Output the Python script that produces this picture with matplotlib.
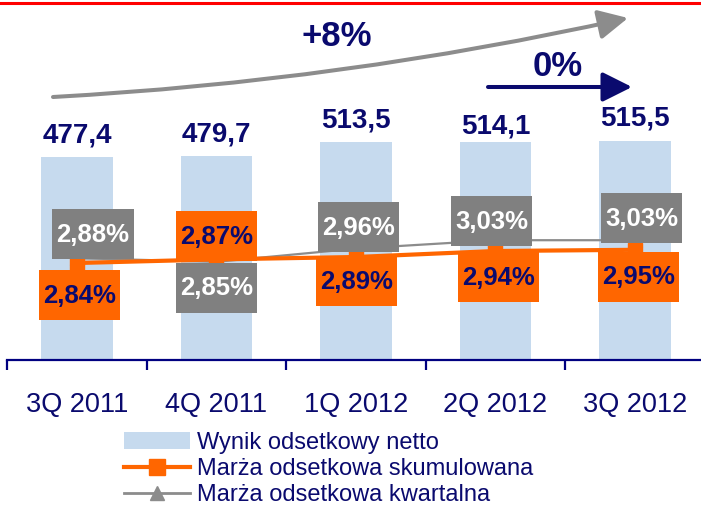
import matplotlib
matplotlib.use('Agg')
import matplotlib.pyplot as plt
from matplotlib.patches import Rectangle, Patch, FancyArrowPatch
from matplotlib.lines import Line2D
from matplotlib.transforms import IdentityTransform

plt.rcParams['font.family'] = ['Liberation Sans', 'DejaVu Sans']

quarters = ['3Q 2011', '4Q 2011', '1Q 2012', '2Q 2012', '3Q 2012']
net_interest = [477.4, 479.7, 513.5, 514.1, 515.5]
margin_cum = [2.84, 2.87, 2.89, 2.94, 2.95]
margin_qtr = [2.88, 2.85, 2.96, 3.03, 3.03]
legend_labels = ['Wynik odsetkowy netto', 'Marża odsetkowa skumulowana',
                 'Marża odsetkowa kwartalna']

# label placement (pixels): value label baseline above bar top, box offsets from point
bar_label_gap = [15, 15, 14.5, 8.5, 15.5]
cum_offsets = [(2.5, 32), (0, -23.4), (0.5, 24), (3, 26), (3.5, 27)]
qtr_offsets = [(16, -24), (0, 26), (2.5, -21.6), (-4, -19), (6.5, -22)]

NAVY = '#0a0a6e'
ORANGE = '#ff6600'
GRAY = '#808080'
LINE_GRAY = '#8c8c8c'
BLUE = '#c6daee'

W, H = 701, 509
fig = plt.figure(figsize=(W / 100, H / 100), dpi=100)


def px_rect(x0, y_top, x1, y_bot):
    return [x0 / W, 1 - y_bot / H, (x1 - x0) / W, (y_bot - y_top) / H]


ax = fig.add_axes(px_rect(7.25, 20, 704.75, 360))
ax2 = ax.twinx()
x = list(range(len(quarters)))

ax.bar(x, net_interest, width=0.516, color=BLUE, zorder=1)
ax.set_xlim(-0.5, 4.5)
ax.set_ylim(0, 801)
ax2.set_ylim(2.0317, 4.865)

for s in ['top', 'left', 'right']:
    ax.spines[s].set_visible(False)
ax.spines['bottom'].set_color('#000080')
ax.spines['bottom'].set_linewidth(1.6)
for s in ax2.spines.values():
    s.set_visible(False)
ax.set_yticks([])
ax2.set_yticks([])

ax.set_xticks([i - 0.5 for i in range(len(quarters) + 1)])
ax.set_xticklabels([])
ax.tick_params(axis='x', which='major', length=7.5, width=1.6, color='#000080', direction='out')
ax.set_xticks(x, minor=True)
ax.set_xticklabels(quarters, minor=True)
ax.tick_params(axis='x', which='minor', length=0, pad=23, labelsize=19.5, labelcolor=NAVY)

ax2.plot(x, margin_qtr, color=LINE_GRAY, lw=1.6, marker='^', ms=10,
         markerfacecolor=LINE_GRAY, markeredgecolor=LINE_GRAY, zorder=3)
ax2.plot(x, margin_cum, color=ORANGE, lw=3, marker='s', ms=10,
         markerfacecolor=ORANGE, markeredgecolor=ORANGE, zorder=4)

# values above the bars
for i, v in enumerate(net_interest):
    ax.annotate(f'{v:.1f}'.replace('.', ','), xy=(i, v), xytext=(0, bar_label_gap[i]),
                textcoords='offset pixels', ha='center', va='baseline',
                fontsize=20, fontweight='bold', color=NAVY)


def tag(axis, i, v, off, face, tcolor):
    px, py = axis.transData.transform((i, v))
    cx, cy = px + off[0], py - off[1]
    fig.add_artist(Rectangle((cx - 40.5, cy - 25), 81, 50, transform=IdentityTransform(),
                             facecolor=face, edgecolor='none', zorder=5))
    fig.text(cx, cy - 7.5, f'{v:.2f}%'.replace('.', ','), transform=IdentityTransform(),
             ha='center', va='baseline', fontsize=18.5, fontweight='bold',
             color=tcolor, zorder=6)


for i, v in enumerate(margin_qtr):
    tag(ax2, i, v, qtr_offsets[i], GRAY, 'white')
for i, v in enumerate(margin_cum):
    tag(ax2, i, v, cum_offsets[i], ORANGE, NAVY)

# red rule along the top edge
fig.add_artist(Line2D([0, 1], [1 - 3 / H] * 2, transform=fig.transFigure,
                      color='#ff0000', lw=2.2))

# growth arrows
fig.add_artist(FancyArrowPatch((53, H - 97), (628, H - 18), transform=IdentityTransform(),
                               connectionstyle='arc3,rad=0.041',
                               arrowstyle='-|>,head_length=0.4,head_width=0.2',
                               mutation_scale=45, lw=2.9, color=LINE_GRAY,
                               shrinkA=0, shrinkB=0))
fig.add_artist(FancyArrowPatch((488, H - 87), (632, H - 87), transform=IdentityTransform(),
                               arrowstyle='-|>,head_length=0.4,head_width=0.2',
                               mutation_scale=45, lw=2.9, color=NAVY,
                               shrinkA=0, shrinkB=0))
fig.text(336.5, H - 46, '+8%', transform=IdentityTransform(), ha='center', va='baseline',
         fontsize=25, fontweight='bold', color=NAVY)
fig.text(558, H - 76, '0%', transform=IdentityTransform(), ha='center', va='baseline',
         fontsize=25, fontweight='bold', color=NAVY)

handles = [Patch(facecolor=BLUE, edgecolor='none'),
           Line2D([], [], color=ORANGE, lw=3, marker='s', ms=11),
           Line2D([], [], color=LINE_GRAY, lw=2, marker='^', ms=10)]
fig.legend(handles, legend_labels, loc='upper left', bbox_to_anchor=(124 / W, 1 - 432 / H),
           frameon=False, fontsize=17, handlelength=2.8, handletextpad=0.3,
           labelspacing=0.17, borderpad=0, borderaxespad=0, labelcolor=NAVY)

fig.savefig('out.png', dpi=100)
